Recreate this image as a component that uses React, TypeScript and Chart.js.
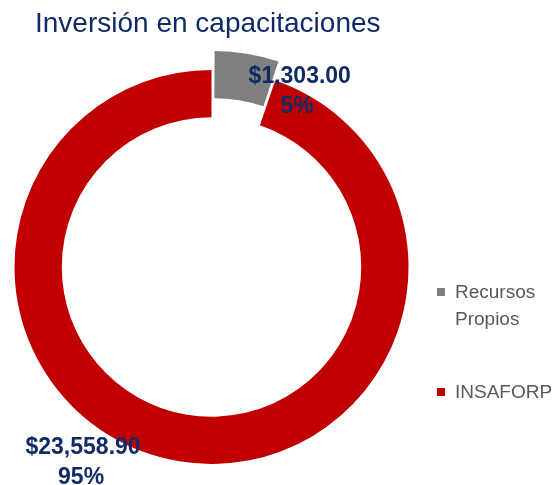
import React, { useEffect, useRef } from "react";
import { Chart, registerables } from "chart.js";

Chart.register(...registerables);

const TITLE = "Inversión en capacitaciones";
const categories = ["Recursos Propios", "INSAFORP"];
const legendLines = [["Recursos", "Propios"], ["INSAFORP"]];
const values = [1303.0, 23558.9];
const valueLabels = ["$1,303.00", "$23,558.90"];
const percentLabels = ["5%", "95%"];
const colors = ["#7F7F7F", "#C00000"];
const offsets = [46, 0];

const NAVY = "#0F2A66";

const textPlugin = {
  id: "textPlugin",
  afterDraw(chart: any) {
    const ctx = chart.ctx;
    ctx.save();
    ctx.fillStyle = NAVY;
    ctx.font = "28px 'Liberation Sans', Arial, sans-serif";
    ctx.textAlign = "left";
    ctx.textBaseline = "alphabetic";
    ctx.fillText(TITLE, 35, 32);

    const meta = chart.getDatasetMeta(0);
    const arc0 = meta.data[0];
    const cx = arc0.x;
    const cy = arc0.y;
    const R = arc0.outerRadius;
    ctx.font = "bold 23px 'Liberation Sans', Arial, sans-serif";
    ctx.textAlign = "center";
    ctx.fillStyle = NAVY;
    const labelPos = [
      [0.448, -0.936, 0.435, -0.784],
      [-0.652, 0.947, -0.662, 1.099],
    ];
    for (let i = 0; i < values.length; i++) {
      const p = labelPos[i];
      ctx.fillText(valueLabels[i], cx + p[0] * R, cy + p[1] * R);
      ctx.fillText(percentLabels[i], cx + p[2] * R, cy + p[3] * R);
    }

    ctx.textAlign = "left";
    ctx.font = "19px 'Liberation Sans', Arial, sans-serif";
    const legendTop = [298, 398];
    for (let i = 0; i < categories.length; i++) {
      ctx.fillStyle = colors[i];
      ctx.fillRect(437, legendTop[i] - 10, 8, 8);
      ctx.fillStyle = "#595959";
      legendLines[i].forEach((ln, j) => {
        ctx.fillText(ln, 455, legendTop[i] + j * 27);
      });
    }
    ctx.restore();
  },
};

export default function App() {
  const ref = useRef<HTMLCanvasElement | null>(null);
  useEffect(() => {
    if (!ref.current) return;
    const chart = new Chart(ref.current, {
      type: "doughnut",
      data: {
        labels: categories,
        datasets: [
          {
            data: values,
            backgroundColor: colors,
            borderWidth: 0,
            offset: offsets,
            hoverOffset: 0,
          },
        ],
      },
      options: {
        responsive: false,
        animation: false,
        cutout: "76%",
        radius: 197,
        layout: { padding: { left: 4, right: 138, top: 60, bottom: 11 } },
        plugins: {
          legend: { display: false },
          tooltip: { enabled: false },
          title: { display: false },
        },
      },
      plugins: [textPlugin],
    });
    return () => chart.destroy();
  }, []);
  return (
    <div style={{ position: "absolute", left: 0, top: 0, width: 557, height: 485, background: "#fff" }}>
      <canvas ref={ref} width={557} height={485} style={{ width: 557, height: 485, display: "block" }} />
    </div>
  );
}
